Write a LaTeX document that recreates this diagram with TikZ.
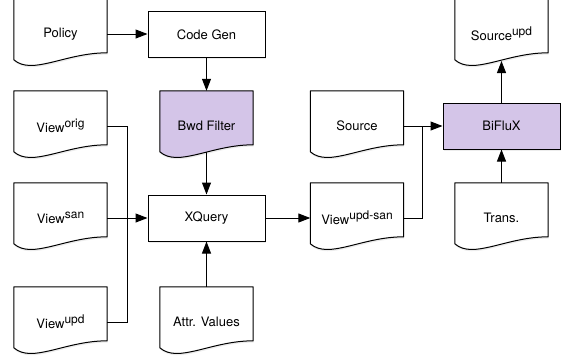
\documentclass[tikz,border=0pt]{standalone}
\usepackage{fontspec}
\setmainfont{TeX Gyre Heros}
\usetikzlibrary{calc,shadows,backgrounds,arrows.meta}
\definecolor{lav}{RGB}{212,197,232}
\newcommand{\sups}[1]{\raisebox{5pt}{\fontsize{12}{12}\selectfont #1}}
\newcommand{\docpath}[2][white]{%
  \path[docshape,fill=#1] (#2.north west) -- (#2.north east) -- ($(#2.north east)+(0,54)$)
    .. controls ($(#2.north west)+(51,54)$) and ($(#2.north west)+(18.5,77)$) ..
    ($(#2.north west)+(0,61)$) -- cycle;}
\begin{document}
\begin{tikzpicture}[x=1pt,y=-1pt,
  font=\fontsize{13}{15}\selectfont,
  shad/.style={drop shadow={shadow xshift=0.5pt, shadow yshift=-1.8pt, opacity=0.15}},
  docnode/.style={minimum width=93pt, minimum height=70pt, inner sep=0pt},
  docshape/.style={draw=black, line width=1pt, line join=round, shad},
  boxnode/.style={draw=black, fill=white, line width=1pt, minimum width=117pt, minimum height=46pt, inner sep=0pt, shad},
  conn/.style={draw=black, line width=1pt},
  arr/.style={conn, -{Triangle[length=12pt, width=9pt]}}]
\useasboundingbox (0,0) rectangle (570,360);

% rectangles
\node[boxnode] (codegen) at (206.5,34.5) {Code Gen};
\node[boxnode] (xquery) at (206.5,218) {XQuery};
\node[boxnode, fill=lav] (biflux) at (501.5,126) {BiFluX};

% documents
\node[docnode] (policy) at (60.5,34) {Policy};
\node[docnode] (vorig) at (60.5,126) {View\sups{orig}};
\node[docnode] (vsan) at (60.5,218) {View\sups{san}};
\node[docnode] (vupd) at (60.5,322) {View\sups{upd}};
\node[docnode] (bwd) at (206.5,126) {Bwd Filter};
\node[docnode] (attr) at (206.5,322) {Attr. Values};
\node[docnode] (source) at (357,126) {Source};
\node[docnode] (vupdsan) at (357,218) {View\sups{upd-san}};
\node[docnode] (srcupd) at (501.5,34) {Source\sups{upd}};
\node[docnode] (trans) at (501.5,218) {Trans.};

\begin{scope}[on background layer]
  \docpath{policy}
  \docpath{vorig}
  \docpath{vsan}
  \docpath{vupd}
  \docpath[lav]{bwd}
  \docpath{attr}
  \docpath{source}
  \docpath{vupdsan}
  \docpath{srcupd}
  \docpath{trans}
\end{scope}

\coordinate (bwdb) at (206.5,152);
\coordinate (srcupdb) at (501.5,61);
\coordinate (j1) at (127,218);
\coordinate (j2) at (422,126);

\draw[arr] (policy.east) -- (codegen.west |- policy.east);
\draw[arr] (codegen.south) -- (bwd.north);
\draw[arr] (bwdb) -- (xquery.north);
\draw[conn] (vorig.east) -| (j1);
\draw[conn] (vupd.east) -| (j1);
\draw[arr] (vsan.east) -- (xquery.west);
\draw[arr] (attr.north) -- (xquery.south);
\draw[arr] (xquery.east) -- (vupdsan.west);
\draw[conn] (vupdsan.east) -| (j2);
\draw[arr] (source.east) -- (biflux.west);
\draw[arr] (trans.north) -- (biflux.south);
\draw[arr] (biflux.north) -- (srcupdb);
\end{tikzpicture}
\end{document}
